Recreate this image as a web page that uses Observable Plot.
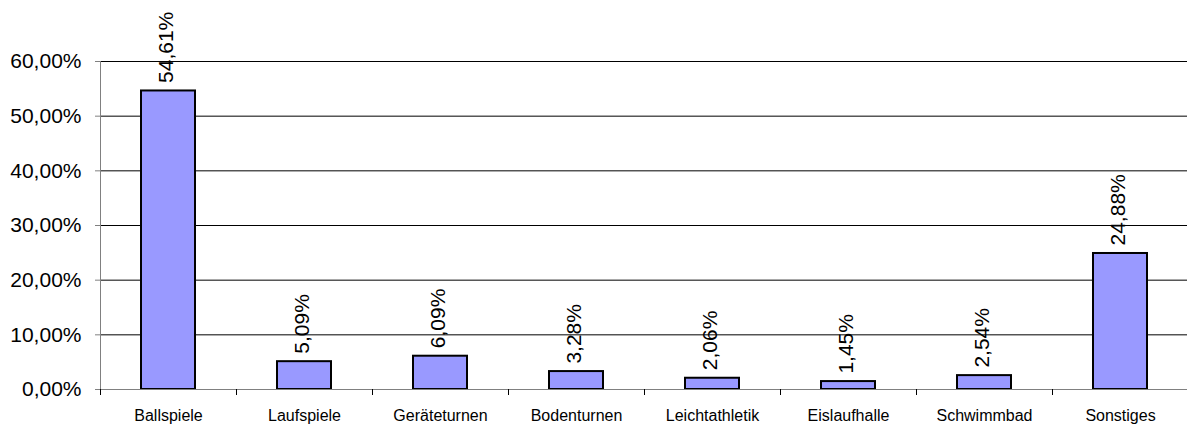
<!DOCTYPE html>
<html>
<head>
<meta charset="utf-8">
<script src="https://cdn.jsdelivr.net/npm/d3@7"></script>
<script src="https://cdn.jsdelivr.net/npm/@observablehq/plot@0.6"></script>
<style>
  html, body { margin: 0; padding: 0; background: #fff; overflow: hidden; }
</style>
</head>
<body>
<div id="chart"></div>
<script>
const categories = ["Ballspiele", "Laufspiele", "Geräteturnen", "Bodenturnen", "Leichtathletik", "Eislaufhalle", "Schwimmbad", "Sonstiges"];
const values = [54.61, 5.09, 6.09, 3.28, 2.06, 1.45, 2.54, 24.88];
const yTicks = [0, 10, 20, 30, 40, 50, 60];

const data = categories.map((c, i) => ({cat: c, val: values[i]}));
const pct = v => v.toFixed(2).replace(".", ",") + "%";

const chart = Plot.plot({
  width: 1187,
  height: 425,
  marginLeft: 100,
  marginRight: 0,
  marginTop: 61,
  marginBottom: 36,
  style: {fontFamily: "'Liberation Sans', Arial, sans-serif", color: "#000", background: "#fff"},
  x: {domain: categories, range: [100, 1188], paddingInner: 0.6, paddingOuter: 0.3},
  y: {domain: [0, 60]},
  marks: [
    Plot.ruleY(yTicks.filter(t => t > 0), {stroke: "#000", strokeWidth: 1}),
    Plot.barY(data, {x: "cat", y: "val", fill: "#9999FF", stroke: "#000", strokeWidth: 2}),
    Plot.ruleY([0], {stroke: "#808080", strokeWidth: 1}),
    Plot.ruleX([categories[0]], {dx: -68, y1: 0, y2: 60, stroke: "#808080", strokeWidth: 1}),
    Plot.ruleX(categories, {dx: -68, y1: 0, y2: 0, insetBottom: -6, stroke: "#000", strokeWidth: 1}),
    Plot.text(data, {x: "cat", y: "val", text: d => pct(d.val), rotate: -90, textAnchor: "start", lineAnchor: "middle", dx: -2, dy: -8, fontSize: 21, fill: "#000"}),
    Plot.axisY({ticks: yTicks, tickFormat: pct, tickSize: 5, tickPadding: 14, fontSize: 21, label: null, stroke: "#808080"}),
    Plot.axisX({tickSize: 0, tickPadding: 20, fontSize: 16, label: null})
  ]
});
document.getElementById("chart").append(chart);
</script>
</body>
</html>
